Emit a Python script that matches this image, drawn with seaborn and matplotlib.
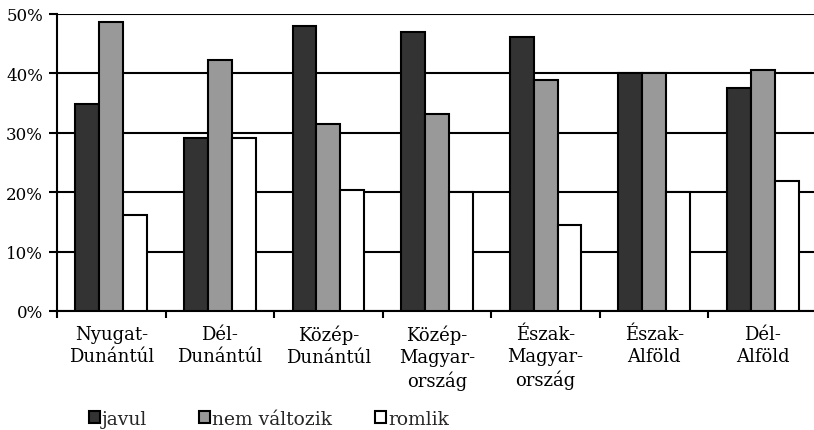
import numpy as np
import pandas as pd
import matplotlib
matplotlib.use("Agg")
import matplotlib.pyplot as plt
import seaborn as sns
from matplotlib.patches import Patch
from matplotlib.ticker import FixedLocator, PercentFormatter

regions = ["Nyugat-\nDunántúl", "Dél-\nDunántúl", "Közép-\nDunántúl", "Közép-\nMagyar-\nország",
           "Észak-\nMagyar-\nország", "Észak-\nAlföld", "Dél-\nAlföld"]
series = ["javul", "nem változik", "romlik"]
javul = [34.8, 29.1, 48.0, 46.9, 46.2, 40.0, 37.5]
nem_valtozik = [48.6, 42.2, 31.4, 33.1, 38.9, 40.0, 40.5]
romlik = [16.2, 29.1, 20.3, 20.0, 14.5, 20.0, 21.9]
colors = ["#333333", "#999999", "#ffffff"]
yticks = [0, 10, 20, 30, 40, 50]

df = pd.DataFrame({
    "region": regions * 3,
    "series": [series[0]] * 7 + [series[1]] * 7 + [series[2]] * 7,
    "value": javul + nem_valtozik + romlik,
})

sns.set_theme(style="white")
plt.rcParams["font.family"] = ["DejaVu Serif"]

fig = plt.figure(figsize=(8.14, 4.31), dpi=100)
ax = fig.add_axes([57 / 814, 1 - 312 / 431, 760 / 814, 297 / 431])

sns.barplot(data=df, x="region", y="value", hue="series", palette=colors,
            order=regions, hue_order=series, width=0.66, edgecolor="black",
            linewidth=1.5, ax=ax, legend=False, zorder=3)

ax.set_ylim(0, 50)
ax.set_xlim(-0.5, 6.5)
ax.set_yticks(yticks)
ax.yaxis.set_major_formatter(PercentFormatter(decimals=0))
ax.grid(axis="y", color="black", linewidth=1.5, zorder=0)
ax.set_axisbelow(True)
ax.set_xlabel("")
ax.set_ylabel("")
for s in ["top", "right"]:
    ax.spines[s].set_visible(False)
for s in ["left", "bottom"]:
    ax.spines[s].set_color("black")
    ax.spines[s].set_linewidth(1.5)

ax.tick_params(axis="x", which="major", length=0, pad=10, labelsize=13, colors="black")
ax.xaxis.set_minor_locator(FixedLocator(np.arange(-0.5, 7.0, 1.0)))
ax.tick_params(axis="x", which="minor", length=5, width=1.5, direction="out", bottom=True, color="black")
ax.tick_params(axis="y", which="major", length=6, width=1.5, direction="out", left=True,
               labelsize=12, colors="black", pad=4)
for lab in ax.get_xticklabels():
    lab.set_linespacing(1.28)

legend_x = [89, 199, 375]
for c, name, lx in zip(colors, series, legend_x):
    fig.legend([Patch(facecolor=c, edgecolor="black", linewidth=1.5)], [name],
               loc="center left", bbox_to_anchor=(lx / 814, 1 - 420 / 431),
               frameon=False, fontsize=13.5, handlelength=0.6, handleheight=0.6,
               handletextpad=0.1, borderpad=0, borderaxespad=0)

fig.savefig("out.png", dpi=100)
